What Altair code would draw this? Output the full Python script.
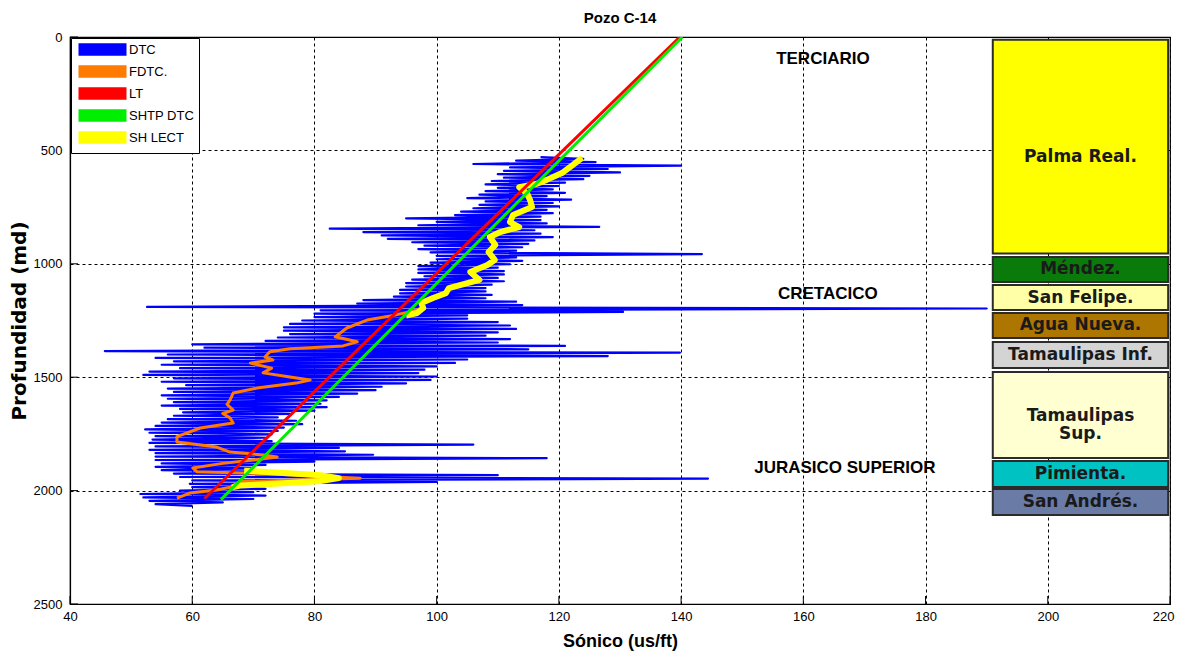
import altair as alt
import pandas as pd

NARROW = "Liberation Sans Narrow, Arial Narrow, Liberation Sans, Arial, sans-serif"

# ---------------- legend series ----------------
series_names = ["DTC", "FDTC.", "LT", "SHTP DTC", "SH LECT"]
series_colors = ["#0000FF", "#FF7A00", "#FF0000", "#00EE00", "#FFFF00"]

# ---------------- axis tick values ----------------
x_ticks = [40, 60, 80, 100, 120, 140, 160, 180, 200, 220]
y_ticks = [0, 500, 1000, 1500, 2000, 2500]

# ---------------- DTC (sonic log) envelope, read per depth level ----------------
dtc_depth = list(range(530, 2061, 15))
dtc_left = [117, 113, 106, 112, 111, 110, 111, 109, 108, 110,
            108, 107, 105, 108, 107, 106, 104, 103, 95, 100,
            97, 82.5, 88, 91, 92, 96, 98, 97, 99, 100,
            100, 99, 97, 97, 97, 98, 96, 95, 95, 94,
            94, 93, 88, 87, 52.6, 81, 80, 80, 78, 76,
            75, 75, 76, 74, 72, 60, 62, 45.7, 56, 54,
            57, 55, 58, 53, 52, 57, 55, 59, 56, 57,
            55, 56, 57, 55, 58, 58.5, 57, 56, 55, 54,
            52.3, 53, 54, 53.5, 53, 54, 53, 54, 54, 54,
            55, 54, 55, 57, 58, 60, 59.6, 60, 58, 51.5,
            52, 53, 54]
dtc_right = [124, 126, 140, 128, 130, 125, 124, 121, 120, 119,
             121, 118, 122, 119, 120, 118, 119, 117, 117, 118,
             126.6, 116, 117, 119, 116, 115, 114, 113, 143.4, 113,
             114, 112, 110, 111, 111, 110, 111, 109, 108, 108,
             109, 108, 113, 114, 190, 130.5, 105, 105, 110, 112,
             113, 110, 108, 112, 110, 121, 115, 139.8, 128, 105,
             103, 100, 98, 97, 100, 99, 95, 91, 90, 87,
             84, 82, 81, 82, 80, 76, 74, 77, 78, 75,
             74, 73, 72, 73, 106, 84, 85, 89.6, 118, 80,
             72, 70, 74, 110, 144.4, 100, 73, 72, 70, 72,
             70, 65, 60]

# ---------------- FDTC (filtered sonic) ----------------
fdtc_depth = [533, 564, 600, 630, 648, 662, 690, 720, 750, 785,
              816, 838, 860, 882, 917, 948, 983, 1005, 1036, 1071,
              1107, 1130, 1151, 1173, 1195, 1212, 1230, 1248, 1283, 1322, 1344,
              1362, 1375, 1388, 1411, 1424, 1438, 1460, 1481, 1499, 1512,
              1526, 1548, 1570, 1600, 1620, 1645, 1660, 1680, 1702, 1724,
              1762, 1786, 1808, 1830, 1843, 1852, 1865, 1880, 1900, 1917,
              1923, 1945, 1960, 1985, 1997, 2011, 2033]
fdtc_us = [123.8, 122.3, 120.5, 118, 116.3, 113.5, 114.8, 115.3, 115.6, 112.5,
           112, 113.5, 110.4, 108.7, 109.6, 108.5, 109.5, 108.3, 105.5, 107,
           102, 101.5, 99.4, 97.5, 97.8, 95.6, 92.4, 88.6, 85.3, 83.4, 87,
           84.7, 76, 72.7, 71.9, 73.2, 69.5, 73, 71.6, 76, 79.3,
           77, 70.6, 66.7, 66.2, 65.7, 66.7, 65, 66.2, 66.7, 61.3,
           57.5, 57.5, 64, 66.2, 71.6, 73.9, 70, 65, 60.1, 60.8,
           69.5, 87.5, 67.8, 66.2, 64, 59.6, 57.5]

# ---------------- SH LECT (shale readings) ----------------
sh_top_depth = [533, 564, 600, 630, 648, 662, 690, 720, 750, 785,
                816, 838, 860, 882, 917, 948, 983, 1005, 1036, 1071,
                1107, 1130, 1151, 1173, 1195, 1217, 1228]
sh_top_us = [123.8, 122.3, 120.5, 118, 116.3, 113.5, 114.8, 115.3, 115.6, 112.5,
             112, 113.5, 110.4, 108.7, 109.6, 108.5, 109.5, 108.3, 105.5, 107,
             102, 101.5, 99.4, 97.5, 97.8, 96.8, 95]
sh_bot_depth = [1912, 1922, 1932, 1945, 1958, 1968, 1977, 1986]
sh_bot_us = [68.5, 75, 81, 84, 81, 75, 68, 66.5]

# ---------------- trend lines ----------------
lt_depth = [0, 2035]
lt_us = [139.8, 62.0]
shtp_depth = [0, 2040]
shtp_us = [140.2, 64.7]

# ---------------- formations column ----------------
form_names = ["Palma Real.", "Méndez.", "San Felipe.", "Agua Nueva.",
              "Tamaulipas Inf.", "Tamaulipas\nSup.", "Pimienta.", "San Andrés."]
form_top = [12, 970, 1094, 1217, 1345, 1477, 1870, 1993]
form_base = [955, 1080, 1204, 1327, 1459, 1856, 1984, 2108]
form_label_depth = [530, 1025, 1149, 1272, 1402, 1670, 1927, 2050]
form_colors = ["#FFFF00", "#0A7A0A", "#FFFFA8", "#AD7600", "#D4D4D4",
               "#FFFFD2", "#00C2C2", "#6A7BA6"]
col_left = 191.0
col_right = 219.7

# ---------------- era labels ----------------
era_names = ["TERCIARIO", "CRETACICO", "JURASICO SUPERIOR"]
era_us = [163.2, 164.0, 166.8]
era_depth = [97, 1133, 1900]

# ================= build tables =================
dtc_rows = []
for i, (d, lo, hi) in enumerate(zip(dtc_depth, dtc_left, dtc_right)):
    dtc_rows.append({"depth": d, "x": lo, "ord": 2 * i, "serie": "DTC", "seg": 0})
    dtc_rows.append({"depth": d + 7, "x": hi, "ord": 2 * i + 1, "serie": "DTC", "seg": 0})
dtc_df = pd.DataFrame(dtc_rows)

fdtc_df = pd.DataFrame({"depth": fdtc_depth, "x": fdtc_us,
                        "ord": range(len(fdtc_depth)), "serie": "FDTC.", "seg": 0})
sh_df = pd.concat([
    pd.DataFrame({"depth": sh_top_depth, "x": sh_top_us, "ord": range(len(sh_top_depth)),
                  "serie": "SH LECT", "seg": 0}),
    pd.DataFrame({"depth": sh_bot_depth, "x": sh_bot_us, "ord": range(len(sh_bot_depth)),
                  "serie": "SH LECT", "seg": 1}),
])
lt_df = pd.DataFrame({"depth": lt_depth, "x": lt_us, "ord": [0, 1], "serie": "LT", "seg": 0})
shtp_df = pd.DataFrame({"depth": shtp_depth, "x": shtp_us, "ord": [0, 1], "serie": "SHTP DTC", "seg": 0})

form_df = pd.DataFrame({"name": form_names, "top": form_top, "base": form_base,
                        "lab": form_label_depth, "color": form_colors})
form_df["x1"] = col_left
form_df["x2"] = col_right
form_df["xc"] = (col_left + col_right) / 2

era_df = pd.DataFrame({"name": era_names, "x": era_us, "depth": era_depth})
xt_df = pd.DataFrame({"x": x_ticks})
yt_df = pd.DataFrame({"depth": y_ticks})

# ================= encodings =================
x_scale = alt.Scale(domain=[40, 220], nice=False, zero=False)
y_scale = alt.Scale(domain=[0, 2500], reverse=True, nice=False, zero=False)

x_axis = alt.Axis(values=x_ticks, title="Sónico (us/ft)", format="d",
                  grid=True, gridDash=[3, 3], gridColor="black", gridOpacity=1, gridWidth=1,
                  labelFont=NARROW, labelFontSize=13, labelColor="black", labelPadding=6,
                  labelFlush=False,
                  labelAlign={"condition": {"test": "datum.value == 220", "value": "right"},
                              "value": "center"},
                  labelOffset={"condition": {"test": "datum.value == 220", "value": 4},
                               "value": 0},
                  titleFont=NARROW, titleFontSize=18, titleFontWeight="bold", titleColor="black",
                  titlePadding=9, tickSize=0, domainColor="black", domainWidth=1.2)
y_axis = alt.Axis(values=y_ticks, title="Profundidad (md)", format="d",
                  grid=True, gridDash=[3, 3], gridColor="black", gridOpacity=1, gridWidth=1,
                  labelFont=NARROW, labelFontSize=13, labelColor="black", labelPadding=8,
                  labelFlush=False,
                  titleFont="DejaVu Sans", titleFontSize=20, titleFontWeight="bold",
                  titleColor="black", titlePadding=4, tickSize=0,
                  domainColor="black", domainWidth=1.2)

LEGEND_SWATCH = ("M-1,-1.3H11M-1,-0.78H11M-1,-0.26H11"
                 "M-1,0.26H11M-1,0.78H11M-1,1.3H11")

color_enc = alt.Color("serie:N",
                      scale=alt.Scale(domain=series_names, range=series_colors),
                      legend=alt.Legend(title=None, orient="top-left", offset=1,
                                        symbolType=LEGEND_SWATCH, symbolSize=64,
                                        symbolStrokeWidth=2.2, labelOffset=40,
                                        labelFont=NARROW, labelFontSize=13, labelColor="black",
                                        rowPadding=1, padding=5, strokeColor="black",
                                        fillColor="white", labelLimit=200))


def line_layer(df, width):
    return alt.Chart(df).mark_line(strokeWidth=width, clip=True, strokeJoin="round").encode(
        x=alt.X("x:Q", scale=x_scale, axis=x_axis),
        y=alt.Y("depth:Q", scale=y_scale, axis=y_axis),
        color=color_enc,
        order=alt.Order("ord:Q"),
        detail="seg:N",
    )


blue = line_layer(dtc_df, 2.2)
orange = line_layer(fdtc_df, 3)
yellow = line_layer(sh_df, 6)
red = line_layer(lt_df, 3)
green = line_layer(shtp_df, 3)

# inward tick marks (MATLAB style) on bottom and left frame
x_tick_marks = alt.Chart(xt_df).mark_rule(color="black", strokeWidth=1).encode(
    x=alt.X("x:Q", scale=x_scale, axis=x_axis),
    y=alt.value(567), y2=alt.value(559),
)
y_tick_marks = alt.Chart(yt_df).mark_rule(color="black", strokeWidth=1).encode(
    y=alt.Y("depth:Q", scale=y_scale, axis=y_axis),
    x=alt.value(0), x2=alt.value(8),
)

col_rects = alt.Chart(form_df).mark_rect(stroke="#2b2b2b", strokeWidth=2).encode(
    x=alt.X("x1:Q", scale=x_scale, axis=x_axis),
    x2="x2:Q",
    y=alt.Y("top:Q", scale=y_scale, axis=y_axis),
    y2="base:Q",
    fill=alt.Fill("color:N", scale=None),
)
col_text = alt.Chart(form_df).mark_text(font="DejaVu Sans", fontWeight="bold", fontSize=17,
                                        color="#1a1a1a", lineBreak="\n", lineHeight=18,
                                        baseline="middle").encode(
    x=alt.X("xc:Q", scale=x_scale, axis=x_axis),
    y=alt.Y("lab:Q", scale=y_scale, axis=y_axis),
    text="name:N",
)
era_text = alt.Chart(era_df).mark_text(font=NARROW, fontWeight="bold", fontSize=17,
                                       color="black", baseline="middle").encode(
    x=alt.X("x:Q", scale=x_scale, axis=x_axis),
    y=alt.Y("depth:Q", scale=y_scale, axis=y_axis),
    text="name:N",
)

chart = alt.layer(x_tick_marks, y_tick_marks, blue, orange, yellow, red, green,
                  col_rects, col_text, era_text).properties(
    width=1100, height=567,
    title=alt.Title("Pozo C-14", font=NARROW, fontSize=15, fontWeight="bold", color="black",
                    offset=5),
    autosize=alt.AutoSizeParams(type="none"),
    padding={"left": 62, "top": 29, "right": 5, "bottom": 49},
    background="white",
).configure_view(stroke="black", strokeWidth=1.2)

chart.save("out.html", embed_options={"renderer": "svg", "actions": False})
